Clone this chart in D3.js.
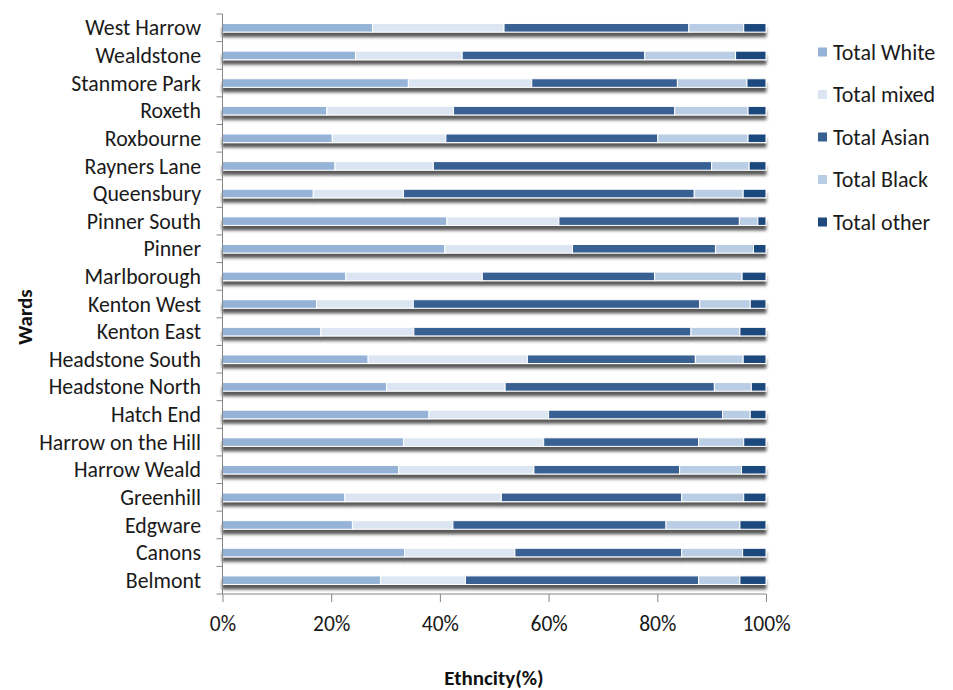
<!DOCTYPE html>
<html><head><meta charset="utf-8">
<script src="https://cdn.jsdelivr.net/npm/d3@7"></script>
<style>body{margin:0;background:#fff}</style>
</head><body><svg id="c" width="953" height="690"></svg>
<script>
const wards = ["West Harrow","Wealdstone","Stanmore Park","Roxeth","Roxbourne","Rayners Lane","Queensbury","Pinner South","Pinner","Marlborough","Kenton West","Kenton East","Headstone South","Headstone North","Hatch End","Harrow on the Hill","Harrow Weald","Greenhill","Edgware","Canons","Belmont"];
const seriesNames = ["Total White","Total mixed","Total Asian","Total Black","Total other"];
const totalWhite = [27.6,24.5,34.2,19.2,20.2,20.7,16.7,41.3,40.9,22.7,17.3,18.1,26.8,30.2,38.0,33.3,32.4,22.5,23.9,33.5,29.1];
const totalMixed = [24.2,19.6,22.7,23.3,20.9,18.1,16.6,20.6,23.5,25.1,17.8,17.1,29.3,21.8,22.0,25.8,24.9,28.8,18.5,20.3,15.6];
const totalAsian = [34.0,33.6,26.8,40.7,39.0,51.2,53.5,33.2,26.3,31.7,52.7,51.0,30.9,38.5,32.0,28.5,26.8,33.2,39.2,30.7,42.9];
const totalBlack = [10.1,16.7,12.8,13.5,16.6,6.9,9.0,3.4,7.0,16.1,9.3,9.0,8.8,6.8,5.1,8.3,11.4,11.4,13.6,11.2,7.6];
const totalOther = [4.1,5.6,3.5,3.3,3.3,3.1,4.2,1.5,2.3,4.4,2.9,4.8,4.2,2.7,2.9,4.1,4.5,4.1,4.8,4.3,4.8];
const tickValues = [0,0.2,0.4,0.6,0.8,1.0];
const colors = ["#95B3D7","#DCE6F2","#376092","#B9CDE5","#1F497D"];

const seriesVals = [totalWhite,totalMixed,totalAsian,totalBlack,totalOther];
const rows = wards.map((w,i)=>{const o={ward:w}; seriesNames.forEach((s,j)=>o[s]=seriesVals[j][i]); return o;});
const stack = d3.stack().keys(seriesNames).offset(d3.stackOffsetExpand);
const layers = stack(rows);

const svg = d3.select("#c");
const font = "Carlito, Calibri, Lato, sans-serif";
const m = {left:222.5, right:766, top:14, bottom:594};
const x = d3.scaleLinear().domain([0,1]).range([m.left,m.right]);
const y = d3.scaleBand().domain(wards).range([m.top,m.bottom]).paddingInner(0.69).paddingOuter(0.345);

const defs = svg.append("defs");
const f = defs.append("filter").attr("id","sh").attr("x","-2%").attr("y","-50%").attr("width","104%").attr("height","250%");
f.append("feDropShadow").attr("dx",0).attr("dy",4.5).attr("stdDeviation",1.5).attr("flood-color","#000").attr("flood-opacity",0.65);

const g = svg.append("g").attr("filter","url(#sh)");
layers.forEach((layer,k)=>{
  g.selectAll(null).data(layer).enter().append("rect")
    .attr("x",d=>x(d[0])).attr("width",d=>x(d[1])-x(d[0]))
    .attr("y",d=>y(d.data.ward)).attr("height",y.bandwidth())
    .attr("fill",colors[k]).attr("stroke","#fff").attr("stroke-width",1);
});

// y axis
const ya = svg.append("g").attr("transform",`translate(${m.left},0)`);
ya.append("line").attr("x1",0).attr("x2",0).attr("y1",m.top).attr("y2",m.bottom).attr("stroke","#868686");
d3.range(wards.length+1).forEach(i=>{
  const yy = m.top+i*(m.bottom-m.top)/wards.length;
  ya.append("line").attr("x1",-6).attr("x2",0).attr("y1",yy).attr("y2",yy).attr("stroke","#868686");
});
svg.append("g").selectAll("text").data(wards).enter().append("text")
  .attr("x",201).attr("y",d=>y(d)+y.bandwidth()/2).attr("dy","0.35em")
  .attr("text-anchor","end").attr("font-family",font).attr("font-size",21.8).attr("fill","#1a1a1a").text(d=>d);

// x axis
const xa = svg.append("g").attr("transform",`translate(0,${m.bottom})`);
xa.call(d3.axisBottom(x).tickValues(tickValues).tickFormat(d3.format(".0%")).tickSize(8).tickPadding(14))
xa.select(".domain").attr("stroke","#868686").attr("d",`M${m.left},0H${m.right}`);
xa.selectAll(".tick line").attr("stroke","#868686");
xa.selectAll(".tick text").attr("font-family",font).attr("font-size",21.5).attr("fill","#1a1a1a");

svg.append("text").attr("x",494).attr("y",685).attr("text-anchor","middle").attr("font-family",font).attr("font-weight","bold").attr("font-size",21).attr("fill","#111").text("Ethncity(%)");
svg.append("text").attr("transform","translate(32,317) rotate(-90)").attr("text-anchor","middle").attr("font-family",font).attr("font-weight","bold").attr("font-size",21).attr("fill","#111").text("Wards");

// legend
const lg = svg.append("g");
seriesNames.forEach((s,i)=>{
  const yy = 52 + i*42.5;
  lg.append("rect").attr("x",818).attr("y",yy-4.5).attr("width",9).attr("height",9).attr("fill",colors[i]);
  lg.append("text").attr("x",833).attr("y",yy).attr("dy","0.35em").attr("font-family",font).attr("font-size",22).attr("fill","#1a1a1a").text(s);
});
</script></body></html>
